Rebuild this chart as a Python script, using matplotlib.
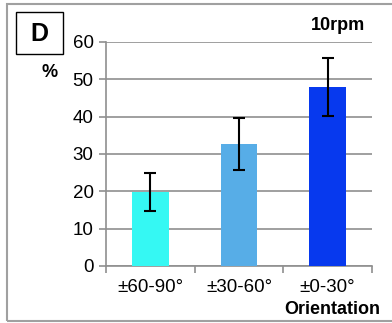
import numpy as np
import matplotlib.pyplot as plt
from matplotlib.patches import Rectangle

plt.rcParams["font.family"] = ["Liberation Sans", "DejaVu Sans"]

# Data
categories = ["±60-90°", "±30-60°", "±0-30°"]
values = [19.8, 32.6, 47.9]
errors = [5.1, 7.0, 7.8]
colors = ["#35F8F3", "#57ADE7", "#0739EE"]

fig = plt.figure(figsize=(3.92, 3.23), dpi=100)
ax = fig.add_axes([106 / 392, 1 - 266 / 323, (372 - 106) / 392, (266 - 42) / 323])

x = np.arange(len(categories))
ax.bar(x, values, width=0.41, color=colors, zorder=3)
ax.errorbar(x, values, yerr=errors, fmt="none", ecolor="black",
            elinewidth=1.5, capsize=4, capthick=1.5, zorder=4)

ax.set_xlim(-0.5, 2.5)
ax.set_ylim(0, 60)
ax.set_yticks(range(0, 61, 10))
ax.yaxis.grid(True, color="#8f8f8f", lw=1.2, zorder=0)
ax.set_axisbelow(True)

ax.set_xticks(x)
ax.set_xticklabels(categories)
ax.set_xticks([-0.5, 0.5, 1.5, 2.5], minor=True)
ax.tick_params(axis="x", which="major", length=0, pad=9, labelsize=13.5)
ax.tick_params(axis="x", which="minor", length=5, color="#8f8f8f", width=1.2)
ax.tick_params(axis="y", length=5, color="#8f8f8f", width=1.2, labelsize=13.5, pad=4)

for s in ["top", "right"]:
    ax.spines[s].set_visible(False)
for s in ["left", "bottom"]:
    ax.spines[s].set_color("#8f8f8f")
    ax.spines[s].set_linewidth(1.2)

# Labels
fig.text(50 / 392, 1 - 73 / 323, "%", fontsize=13, fontweight="bold",
         ha="center", va="center")
fig.text(365 / 392, 1 - 26 / 323, "10rpm", fontsize=13, fontweight="bold",
         ha="right", va="center")
fig.text(380 / 392, 1 - 310 / 323, "Orientation", fontsize=13, fontweight="bold",
         ha="right", va="center")

# Panel letter box
fig.patches.append(Rectangle((16 / 392, 1 - 54 / 323), 47 / 392, 42 / 323,
                             transform=fig.transFigure, fill=False,
                             edgecolor="black", lw=1))
fig.text(39.5 / 392, 1 - 34 / 323, "D", fontsize=18, fontweight="bold",
         ha="center", va="center")

# Outer frame
fig.patches.append(Rectangle((7 / 392, 2 / 323), 400 / 392, 317 / 323,
                             transform=fig.transFigure, fill=False,
                             edgecolor="#a0a0a0", lw=1.5, clip_on=False))

fig.savefig("out.png", dpi=100)
